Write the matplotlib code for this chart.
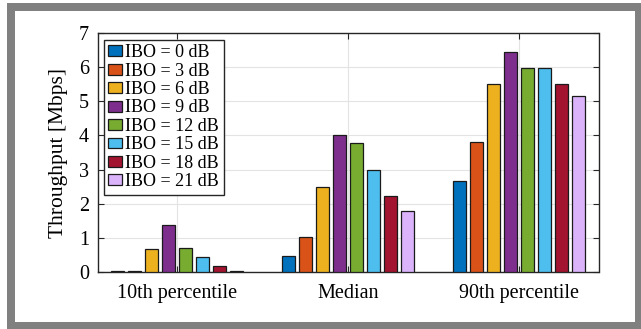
import matplotlib
matplotlib.use("Agg")
import matplotlib.pyplot as plt
import numpy as np
from matplotlib.patches import Rectangle

categories = ["10th percentile", "Median", "90th percentile"]
series_labels = ["IBO = 0 dB", "IBO = 3 dB", "IBO = 6 dB", "IBO = 9 dB",
                 "IBO = 12 dB", "IBO = 15 dB", "IBO = 18 dB", "IBO = 21 dB"]
ibo_0 = [0.01, 0.45, 2.66]
ibo_3 = [0.01, 1.02, 3.82]
ibo_6 = [0.66, 2.48, 5.52]
ibo_9 = [1.36, 4.02, 6.44]
ibo_12 = [0.70, 3.77, 5.98]
ibo_15 = [0.44, 2.98, 5.98]
ibo_18 = [0.18, 2.21, 5.52]
ibo_21 = [0.01, 1.77, 5.15]
series = [ibo_0, ibo_3, ibo_6, ibo_9, ibo_12, ibo_15, ibo_18, ibo_21]
colors = ["#0072BD", "#D95319", "#EDB120", "#7E2F8E",
          "#77AC30", "#4DBEEE", "#A2142F", "#DAB3FB"]
yticks = [0, 1, 2, 3, 4, 5, 6, 7]

plt.rcParams['font.family'] = ['Liberation Serif', 'DejaVu Serif']

W, H = 641, 329
fig = plt.figure(figsize=(W / 100, H / 100), dpi=100)
fig.patch.set_facecolor("white")
fig.patches.append(Rectangle((7 / W, 0), 1 - 7 / W, (H - 3) / H,
                             transform=fig.transFigure, facecolor="#808080",
                             edgecolor="none", zorder=-10))
fig.patches.append(Rectangle((15 / W, 7 / H), (635 - 15) / W, (322 - 11) / H,
                             transform=fig.transFigure, facecolor="white",
                             edgecolor="none", zorder=-9))

ax = fig.add_axes([97.5 / W, 57.3 / H, (598.5 - 97.5) / W, (271.7 - 33.3) / H])

x = np.arange(1, len(categories) + 1)
n = len(series)
pitch = 0.0995
width = 0.08
for i, (vals, lab, c) in enumerate(zip(series, series_labels, colors)):
    off = (i - (n - 1) / 2) * pitch
    ax.bar(x + off, vals, width, color=c, edgecolor="#1a1a1a", linewidth=0.9,
           label=lab, zorder=3)

ax.set_xlim(0.534, 3.466)
ax.set_ylim(0, 7)
ax.set_yticks(yticks)
ax.set_xticks(x)
ax.set_xticklabels(categories, fontsize=14.5)
ax.tick_params(axis="y", labelsize=14.5)
ax.tick_params(direction="in", length=4, width=0.8, top=True, right=True,
               color="#262626", pad=6)
ax.tick_params(axis="x", pad=9)
ax.grid(True, color="#e3e3e3", linewidth=0.8, zorder=0)
ax.set_axisbelow(True)
for s in ax.spines.values():
    s.set_color("#262626")
    s.set_linewidth(1.0)
ax.set_ylabel("Throughput [Mbps]", fontsize=15.5, labelpad=8)

leg = ax.legend(loc="upper left", fontsize=13, frameon=True, fancybox=False,
                edgecolor="#262626", framealpha=1, borderaxespad=0.35,
                handlelength=0.75, handleheight=0.55, handletextpad=0.2,
                labelspacing=0.08, borderpad=0.25)
leg.get_frame().set_linewidth(1.0)

fig.savefig("out.png", dpi=100, facecolor=fig.get_facecolor())
